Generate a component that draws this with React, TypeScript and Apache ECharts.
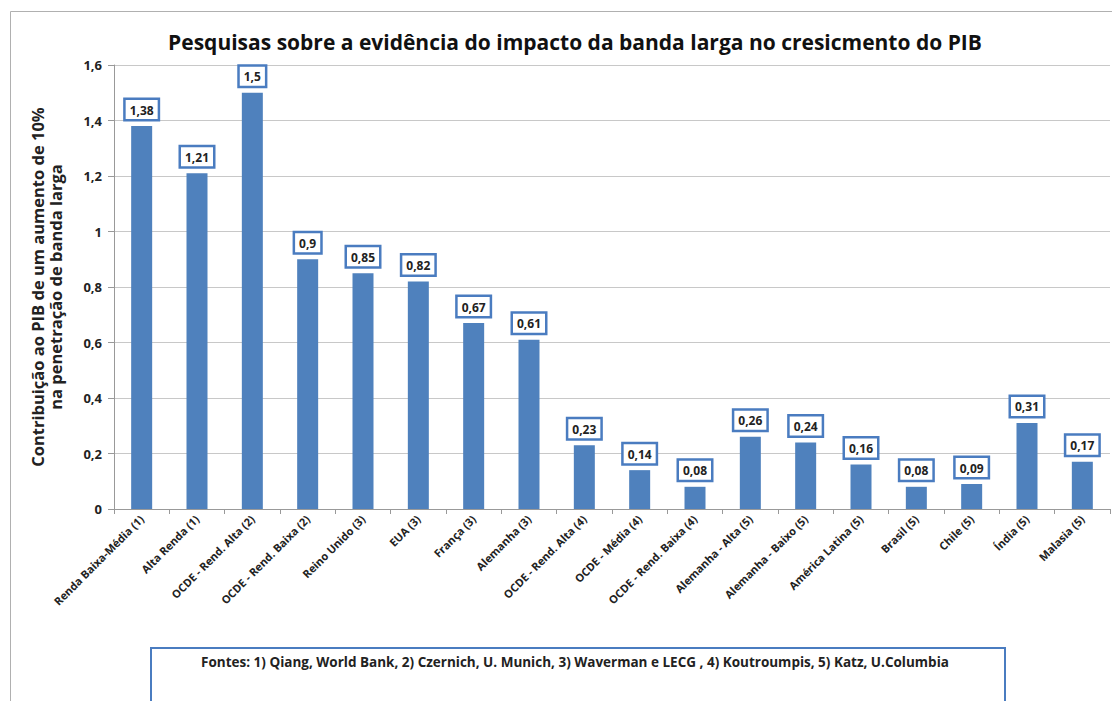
import React, { useEffect, useRef } from "react";
import * as echarts from "echarts";

const categories = [
  "Renda Baixa-Média (1)",
  "Alta Renda (1)",
  "OCDE - Rend. Alta (2)",
  "OCDE - Rend. Baixa (2)",
  "Reino Unido (3)",
  "EUA (3)",
  "França (3)",
  "Alemanha (3)",
  "OCDE - Rend. Alta (4)",
  "OCDE - Média (4)",
  "OCDE - Rend. Baixa (4)",
  "Alemanha - Alta (5)",
  "Alemanha - Baixo (5)",
  "América Latina (5)",
  "Brasil (5)",
  "Chile (5)",
  "Índia (5)",
  "Malasia (5)",
];
const values = [1.38, 1.21, 1.5, 0.9, 0.85, 0.82, 0.67, 0.61, 0.23, 0.14, 0.08, 0.26, 0.24, 0.16, 0.08, 0.09, 0.31, 0.17];

const titleText = "Pesquisas sobre a evidência do impacto da banda larga no cresicmento do PIB";
const yAxisName = "Contribuição ao PIB de um aumento de 10%\nna penetração de banda larga";
const sourceText = "Fontes: 1) Qiang, World Bank, 2) Czernich, U. Munich, 3) Waverman e LECG , 4) Koutroumpis, 5) Katz, U.Columbia";

const FONT = "'Open Sans', 'Noto Sans', sans-serif";
const fmt = (v: number) => String(v).replace(".", ",");

export default function App() {
  const ref = useRef<HTMLDivElement>(null);
  useEffect(() => {
    if (!ref.current) return;
    const chart = echarts.init(ref.current, undefined, { renderer: "svg" });
    chart.setOption({
      animation: false,
      backgroundColor: "#fff",
      textStyle: { fontFamily: FONT },
      title: {
        text: titleText,
        left: 570,
        top: 26,
        textAlign: "center",
        textStyle: { fontSize: 21, fontWeight: "bold", color: "#111", fontFamily: FONT },
      },
      grid: { left: 114, right: 2, top: 65, bottom: 192, containLabel: false },
      xAxis: {
        type: "category",
        data: categories,
        axisLine: { lineStyle: { color: "#999" } },
        axisTick: { show: true, alignWithLabel: false, length: 5, lineStyle: { color: "#999" } },
        axisLabel: {
          rotate: 45,
          interval: 0,
          fontSize: 11,
          fontWeight: "bold",
          color: "#222",
          margin: 8,
          fontFamily: FONT,
        },
      },
      yAxis: {
        type: "value",
        min: 0,
        max: 1.6,
        interval: 0.2,
        name: yAxisName,
        nameLocation: "middle",
        nameGap: 50,
        nameRotate: 90,
        nameTextStyle: { fontSize: 16.5, fontWeight: "bold", color: "#222", lineHeight: 18, fontFamily: FONT },
        axisLine: { show: true, lineStyle: { color: "#999" } },
        axisTick: { show: true, length: 6, lineStyle: { color: "#999" } },
        splitLine: { lineStyle: { color: "#c8c8c8" } },
        axisLabel: {
          fontSize: 13,
          fontWeight: "bold",
          color: "#222",
          margin: 12,
          fontFamily: FONT,
          formatter: (v: number) => fmt(Math.round(v * 10) / 10),
        },
      },
      series: [
        {
          type: "bar",
          data: values,
          barWidth: 21,
          itemStyle: { color: "#4f81bd" },
          label: {
            show: true,
            position: "top",
            distance: 7,
            formatter: (p: any) => fmt(p.value),
            backgroundColor: "#fff",
            borderColor: "#4a7cc0",
            borderWidth: 2.5,
            padding: [4, 4, 3, 4],
            fontSize: 12,
            fontWeight: "bold",
            color: "#222",
            fontFamily: FONT,
          },
        },
      ],
      graphic: [
        {
          type: "rect",
          shape: { x: 10.5, y: 11.5, width: 1200, height: 800 },
          style: { fill: "none", stroke: "#b0b0b0", lineWidth: 1 },
          silent: true,
        },
        {
          type: "rect",
          shape: { x: 151, y: 648, width: 854, height: 80 },
          style: { fill: "#fff", stroke: "#4a7cc0", lineWidth: 2 },
          silent: true,
        },
        {
          type: "text",
          x: 575,
          y: 662,
          style: {
            text: sourceText,
            fontSize: 13.5,
            fontWeight: "bold",
            fill: "#222",
            fontFamily: FONT,
            align: "center",
            verticalAlign: "middle",
          },
          silent: true,
        },
      ],
    });
    return () => chart.dispose();
  }, []);
  return (
    <div
      ref={ref}
      style={{ position: "fixed", left: 0, top: 0, width: 1112, height: 701 }}
    />
  );
}
